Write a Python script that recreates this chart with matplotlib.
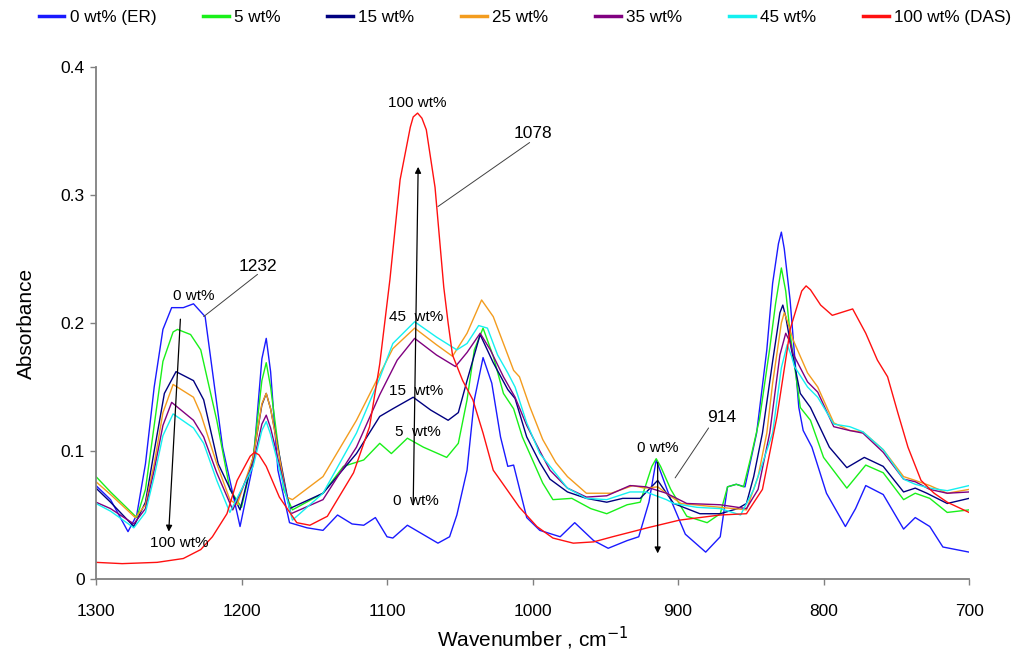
import numpy as np
import matplotlib
matplotlib.use('Agg')
import matplotlib.pyplot as plt

plt.rcParams['font.family'] = ['Liberation Sans', 'DejaVu Sans']

# spectres (nombre d'onde cm-1, absorbance)
wn_0 = [1300, 1290, 1278, 1272, 1266, 1260, 1254, 1248, 1240, 1233, 1225, 1213, 1201, 1192, 1186,
        1183, 1180, 1175, 1167, 1155, 1144, 1134, 1124, 1116, 1108, 1100, 1096, 1086, 1080, 1065,
        1057, 1052, 1045, 1040, 1034, 1028, 1022, 1017, 1013, 1004, 995, 981, 971, 958, 948, 935,
        927, 920, 915, 905, 895, 881, 871, 866, 860, 854, 846, 839, 835, 831, 829, 827, 823, 817,
        814, 808, 798, 785, 778, 771, 759, 745, 737, 727, 718, 700]
ab_0 = [0.073, 0.062, 0.037, 0.050, 0.090, 0.150, 0.195, 0.212, 0.212, 0.215, 0.205, 0.103, 0.041,
        0.090, 0.172, 0.188, 0.162, 0.085, 0.044, 0.040, 0.038, 0.050, 0.043, 0.042, 0.048, 0.033,
        0.032, 0.042, 0.038, 0.028, 0.033, 0.050, 0.085, 0.140, 0.173, 0.153, 0.111, 0.088, 0.089,
        0.048, 0.038, 0.033, 0.044, 0.030, 0.024, 0.030, 0.033, 0.060, 0.093, 0.062, 0.035, 0.021,
        0.033, 0.072, 0.074, 0.072, 0.114, 0.179, 0.231, 0.262, 0.271, 0.258, 0.218, 0.134, 0.116,
        0.103, 0.067, 0.041, 0.055, 0.073, 0.066, 0.039, 0.048, 0.041, 0.025, 0.021]

wn_5 = [1300, 1290, 1272, 1266, 1260, 1254, 1247, 1244, 1235, 1228, 1217, 1208, 1200, 1192, 1186,
        1183, 1180, 1171, 1165, 1144, 1130, 1116, 1105, 1097, 1086, 1075, 1059, 1051, 1045, 1040,
        1034, 1027, 1020, 1013, 1007, 1000, 993, 986, 973, 960, 949, 935, 926, 918, 915, 912, 905,
        894, 880, 871, 866, 860, 855, 850, 844, 837, 833, 829, 826, 823, 816, 809, 800, 784, 771,
        759, 745, 737, 727, 715, 700]
ab_5 = [0.080, 0.068, 0.048, 0.070, 0.120, 0.170, 0.193, 0.195, 0.191, 0.179, 0.124, 0.070, 0.056,
        0.095, 0.155, 0.169, 0.150, 0.070, 0.054, 0.067, 0.088, 0.093, 0.106, 0.098, 0.110, 0.103,
        0.095, 0.106, 0.140, 0.179, 0.196, 0.174, 0.145, 0.133, 0.111, 0.093, 0.075, 0.062, 0.063,
        0.055, 0.051, 0.058, 0.060, 0.088, 0.094, 0.088, 0.070, 0.049, 0.044, 0.051, 0.072, 0.074,
        0.072, 0.095, 0.125, 0.180, 0.215, 0.243, 0.225, 0.192, 0.134, 0.124, 0.095, 0.071, 0.089,
        0.083, 0.062, 0.067, 0.063, 0.052, 0.054]

wn_15 = [1300, 1290, 1274, 1266, 1260, 1253, 1245, 1233, 1226, 1216, 1201, 1192, 1186, 1183, 1180,
         1167, 1144, 1121, 1105, 1096, 1082, 1070, 1058, 1051, 1045, 1036, 1027, 1017, 1012, 1004,
         995, 988, 976, 963, 949, 938, 926, 914, 903, 885, 871, 859, 853, 848, 842, 835, 830, 828,
         826, 822, 816, 809, 796, 784, 772, 759, 745, 737, 729, 715, 700]
ab_15 = [0.071, 0.060, 0.041, 0.060, 0.100, 0.145, 0.162, 0.155, 0.140, 0.090, 0.054, 0.095, 0.136,
         0.145, 0.133, 0.055, 0.067, 0.098, 0.127, 0.133, 0.142, 0.132, 0.124, 0.130, 0.155, 0.191,
         0.169, 0.148, 0.141, 0.111, 0.091, 0.078, 0.068, 0.063, 0.060, 0.063, 0.063, 0.077, 0.059,
         0.051, 0.051, 0.055, 0.059, 0.080, 0.114, 0.170, 0.208, 0.214, 0.205, 0.179, 0.145, 0.134,
         0.103, 0.087, 0.095, 0.088, 0.068, 0.071, 0.067, 0.059, 0.063]

wn_25 = [1300, 1290, 1273, 1266, 1260, 1254, 1247, 1233, 1228, 1217, 1208, 1203, 1192, 1186, 1183,
         1180, 1169, 1165, 1144, 1121, 1105, 1096, 1081, 1066, 1055, 1045, 1035, 1027, 1019, 1013,
         1009, 1002, 993, 984, 976, 963, 946, 931, 923, 914, 908, 898, 871, 853, 845, 839, 835,
         829, 827, 825, 821, 811, 804, 793, 782, 773, 759, 745, 737, 727, 715, 700]
ab_25 = [0.076, 0.066, 0.048, 0.058, 0.090, 0.130, 0.152, 0.142, 0.129, 0.090, 0.062, 0.058, 0.095,
         0.137, 0.145, 0.133, 0.064, 0.062, 0.080, 0.124, 0.160, 0.180, 0.196, 0.183, 0.174, 0.192,
         0.218, 0.205, 0.181, 0.163, 0.158, 0.135, 0.109, 0.091, 0.080, 0.067, 0.067, 0.073, 0.071,
         0.072, 0.067, 0.059, 0.056, 0.054, 0.080, 0.114, 0.153, 0.200, 0.208, 0.202, 0.187, 0.161,
         0.150, 0.122, 0.116, 0.115, 0.101, 0.080, 0.077, 0.073, 0.067, 0.070]

wn_35 = [1300, 1290, 1274, 1266, 1260, 1254, 1248, 1233, 1226, 1217, 1206, 1192, 1186, 1183, 1180,
         1166, 1144, 1121, 1105, 1093, 1081, 1066, 1053, 1045, 1036, 1029, 1020, 1012, 1004, 995,
         988, 976, 963, 949, 933, 922, 908, 894, 871, 853, 845, 837, 830, 826, 823, 821, 811, 804,
         793, 782, 773, 759, 745, 737, 727, 715, 700]
ab_35 = [0.060, 0.055, 0.043, 0.055, 0.085, 0.120, 0.138, 0.124, 0.111, 0.083, 0.054, 0.090, 0.121,
         0.128, 0.118, 0.051, 0.062, 0.103, 0.144, 0.171, 0.188, 0.175, 0.166, 0.177, 0.192, 0.179,
         0.158, 0.142, 0.120, 0.100, 0.085, 0.071, 0.064, 0.065, 0.073, 0.072, 0.067, 0.059, 0.058,
         0.055, 0.070, 0.114, 0.175, 0.192, 0.185, 0.176, 0.154, 0.146, 0.119, 0.116, 0.114, 0.099,
         0.078, 0.076, 0.070, 0.067, 0.068]

wn_45 = [1300, 1290, 1274, 1266, 1260, 1254, 1247, 1233, 1226, 1217, 1208, 1192, 1186, 1183, 1180,
         1165, 1144, 1121, 1105, 1096, 1081, 1066, 1052, 1045, 1037, 1031, 1024, 1017, 1012, 1004,
         995, 988, 976, 963, 949, 933, 922, 908, 903, 887, 871, 857, 848, 835, 829, 825, 822, 820,
         811, 804, 793, 782, 773, 759, 745, 737, 727, 715, 700]
ab_45 = [0.059, 0.053, 0.040, 0.052, 0.080, 0.112, 0.129, 0.118, 0.106, 0.077, 0.052, 0.088, 0.116,
         0.123, 0.113, 0.046, 0.067, 0.114, 0.157, 0.184, 0.201, 0.189, 0.179, 0.184, 0.198, 0.196,
         0.175, 0.161, 0.150, 0.122, 0.098, 0.088, 0.071, 0.063, 0.062, 0.068, 0.068, 0.062, 0.059,
         0.056, 0.055, 0.050, 0.070, 0.114, 0.165, 0.183, 0.174, 0.166, 0.150, 0.142, 0.121, 0.119,
         0.115, 0.101, 0.078, 0.074, 0.071, 0.069, 0.073]

wn_100 = [1300, 1282, 1258, 1240, 1228, 1220, 1210, 1203, 1194, 1191, 1188, 1183, 1174, 1162, 1153,
          1141, 1123, 1112, 1105, 1098, 1091, 1084, 1082, 1079, 1076, 1073, 1067, 1061, 1058, 1055,
          1048, 1041, 1034, 1027, 1022, 1009, 997, 986, 972, 958, 945, 921, 899, 871, 853, 842, 832,
          825, 823, 815, 812, 809, 802, 794, 780, 771, 763, 756, 749, 742, 733, 724, 715, 700]
ab_100 = [0.013, 0.012, 0.013, 0.016, 0.023, 0.033, 0.051, 0.077, 0.096, 0.099, 0.097, 0.088, 0.064,
          0.044, 0.042, 0.049, 0.083, 0.119, 0.168, 0.234, 0.312, 0.353, 0.361, 0.364, 0.360, 0.351,
          0.306, 0.228, 0.200, 0.175, 0.155, 0.140, 0.114, 0.085, 0.077, 0.056, 0.041, 0.032, 0.028,
          0.029, 0.033, 0.040, 0.046, 0.050, 0.051, 0.070, 0.127, 0.179, 0.195, 0.225, 0.229, 0.226,
          0.214, 0.206, 0.211, 0.192, 0.171, 0.158, 0.130, 0.103, 0.077, 0.067, 0.060, 0.052]

labels = ['0 wt% (ER)', '5 wt%', '15 wt%', '25 wt%', '35 wt%', '45 wt%', '100 wt% (DAS)']
colors = ['#1a1aff', '#19f019', '#000080', '#f39c1e', '#800080', '#14f0f0', '#ff1010']
series = [(wn_0, ab_0), (wn_5, ab_5), (wn_15, ab_15), (wn_25, ab_25),
          (wn_35, ab_35), (wn_45, ab_45), (wn_100, ab_100)]

fig = plt.figure(figsize=(10.19, 6.59), dpi=100)
ax = fig.add_axes([0.0942, 0.1214, 0.8568, 0.7769])

for (wn, ab), lab, col in zip(series, labels, colors):
    ax.plot(wn, ab, color=col, lw=1.0, label=lab)

ax.set_xlim(1300, 700)
ax.set_ylim(0, 0.4)
ax.set_xticks([1300, 1200, 1100, 1000, 900, 800, 700])
ax.set_yticks([0, 0.1, 0.2, 0.3, 0.4])
ax.set_yticklabels(['0', '0.1', '0.2', '0.3', '0.4'])
for s in ['top', 'right']:
    ax.spines[s].set_visible(False)
for s in ['left', 'bottom']:
    ax.spines[s].set_color('#808080')
    ax.spines[s].set_linewidth(1.3)
ax.tick_params(colors='#808080', labelcolor='black', labelsize=12.5, length=4, width=1)
ax.tick_params(axis='x', pad=14)
ax.tick_params(axis='y', pad=4)
ax.set_xlabel('Wavenumber , cm$^{-1}$', fontsize=15, labelpad=4)
ax.set_ylabel('Absorbance', fontsize=15, labelpad=18)

# annotations
txt = dict(fontsize=11, ha='center', va='center')
arw = dict(arrowstyle='-|>', color='black', lw=0.9, mutation_scale=9, shrinkA=0, shrinkB=0)
ln = dict(arrowstyle='-', color='#404040', lw=0.7, shrinkA=0, shrinkB=0)

ax.text(1233, 0.221, '0 wt%', **txt)
ax.text(1243, 0.028, '100 wt%', **txt)
ax.annotate('', xy=(1250, 0.037), xytext=(1242, 0.203), arrowprops=arw)
ax.text(1189, 0.244, '1232', fontsize=12.5, ha='center', va='center')
ax.annotate('', xy=(1226, 0.205), xytext=(1189, 0.238), arrowprops=ln)

ax.text(1079, 0.372, '100 wt%', **txt)
ax.annotate('', xy=(1078.6, 0.322), xytext=(1082, 0.058), arrowprops=arw)
ax.text(1080, 0.205, '45  wt%', **txt)
ax.text(1080, 0.147, '15  wt%', **txt)
ax.text(1079, 0.115, '5  wt%', **txt)
ax.text(1080, 0.061, '0  wt%', **txt)
ax.text(1000, 0.348, '1078', fontsize=12.5, ha='center', va='center')
ax.annotate('', xy=(1065, 0.291), xytext=(1002, 0.341), arrowprops=ln)

ax.text(914, 0.102, '0 wt%', **txt)
ax.annotate('', xy=(914, 0.020), xytext=(914, 0.091), arrowprops=arw)
ax.text(870, 0.126, '914', fontsize=12.5, ha='center', va='center')
ax.annotate('', xy=(902, 0.079), xytext=(879, 0.118), arrowprops=ln)

fig.legend(loc='upper left', bbox_to_anchor=(0.028, 1.0), ncol=7, frameon=False,
           fontsize=12.3, handlelength=1.5, handletextpad=0.3, columnspacing=2.75,
           borderaxespad=0.2)
for l in fig.legends[0].get_lines():
    l.set_linewidth(2.5)

fig.savefig('out.png', dpi=100)
